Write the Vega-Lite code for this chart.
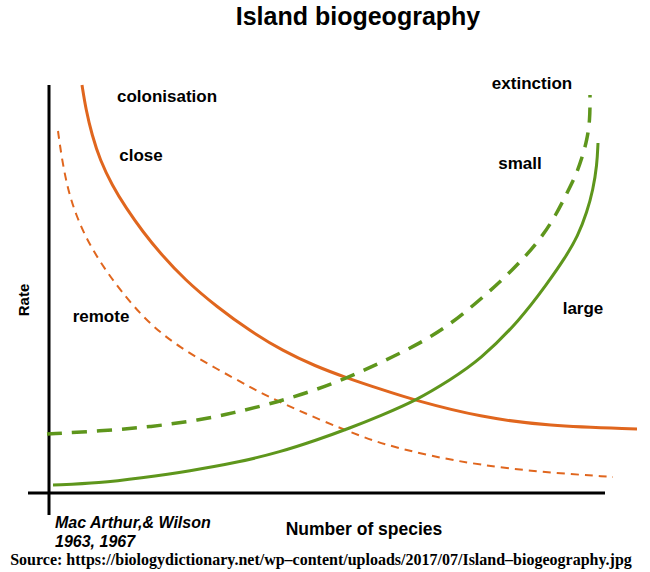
{
  "$schema": "https://vega.github.io/schema/vega-lite/v6.json",
  "width": 650,
  "height": 572,
  "padding": 0,
  "autosize": {"type": "fit", "contains": "padding"},
  "background": "white",
  "config": {"view": {"stroke": null}},
  "datasets": {
    "curves": [
      {"series": "close", "i": 1, "x": 33, "y": 408},
      {"series": "close", "i": 2, "x": 37, "y": 383},
      {"series": "close", "i": 3, "x": 43, "y": 358},
      {"series": "close", "i": 4, "x": 51, "y": 333},
      {"series": "close", "i": 5, "x": 63, "y": 308},
      {"series": "close", "i": 6, "x": 77, "y": 285},
      {"series": "close", "i": 7, "x": 94, "y": 261},
      {"series": "close", "i": 8, "x": 111, "y": 240},
      {"series": "close", "i": 9, "x": 136, "y": 213},
      {"series": "close", "i": 10, "x": 168, "y": 186},
      {"series": "close", "i": 11, "x": 201, "y": 162},
      {"series": "close", "i": 12, "x": 234, "y": 142},
      {"series": "close", "i": 13, "x": 266, "y": 127},
      {"series": "close", "i": 14, "x": 298, "y": 115},
      {"series": "close", "i": 15, "x": 331, "y": 104},
      {"series": "close", "i": 16, "x": 368, "y": 92},
      {"series": "close", "i": 17, "x": 431, "y": 76},
      {"series": "close", "i": 18, "x": 498, "y": 67},
      {"series": "close", "i": 19, "x": 588, "y": 64},
      {"series": "remote", "i": 1, "x": 9, "y": 362},
      {"series": "remote", "i": 2, "x": 13, "y": 333},
      {"series": "remote", "i": 3, "x": 19, "y": 303},
      {"series": "remote", "i": 4, "x": 27, "y": 278},
      {"series": "remote", "i": 5, "x": 38, "y": 253},
      {"series": "remote", "i": 6, "x": 53, "y": 228},
      {"series": "remote", "i": 7, "x": 71, "y": 203},
      {"series": "remote", "i": 8, "x": 98, "y": 171},
      {"series": "remote", "i": 9, "x": 131, "y": 145},
      {"series": "remote", "i": 10, "x": 168, "y": 124},
      {"series": "remote", "i": 11, "x": 201, "y": 106},
      {"series": "remote", "i": 12, "x": 224, "y": 94},
      {"series": "remote", "i": 13, "x": 271, "y": 73},
      {"series": "remote", "i": 14, "x": 314, "y": 56},
      {"series": "remote", "i": 15, "x": 334, "y": 49},
      {"series": "remote", "i": 16, "x": 381, "y": 37},
      {"series": "remote", "i": 17, "x": 431, "y": 28},
      {"series": "remote", "i": 18, "x": 491, "y": 21},
      {"series": "remote", "i": 19, "x": 564, "y": 16},
      {"series": "small", "i": 1, "x": -2, "y": 59},
      {"series": "small", "i": 2, "x": 51, "y": 62},
      {"series": "small", "i": 3, "x": 101, "y": 66},
      {"series": "small", "i": 4, "x": 151, "y": 73},
      {"series": "small", "i": 5, "x": 184, "y": 80},
      {"series": "small", "i": 6, "x": 221, "y": 89},
      {"series": "small", "i": 7, "x": 261, "y": 101},
      {"series": "small", "i": 8, "x": 298, "y": 115},
      {"series": "small", "i": 9, "x": 331, "y": 130},
      {"series": "small", "i": 10, "x": 366, "y": 147},
      {"series": "small", "i": 11, "x": 398, "y": 166},
      {"series": "small", "i": 12, "x": 431, "y": 193},
      {"series": "small", "i": 13, "x": 464, "y": 223},
      {"series": "small", "i": 14, "x": 491, "y": 253},
      {"series": "small", "i": 15, "x": 507, "y": 278},
      {"series": "small", "i": 16, "x": 518, "y": 300},
      {"series": "small", "i": 17, "x": 527, "y": 318},
      {"series": "small", "i": 18, "x": 533, "y": 335},
      {"series": "small", "i": 19, "x": 538, "y": 353},
      {"series": "small", "i": 20, "x": 541, "y": 373},
      {"series": "small", "i": 21, "x": 541, "y": 398},
      {"series": "large", "i": 1, "x": 4, "y": 8},
      {"series": "large", "i": 2, "x": 51, "y": 10},
      {"series": "large", "i": 3, "x": 91, "y": 15},
      {"series": "large", "i": 4, "x": 141, "y": 22},
      {"series": "large", "i": 5, "x": 191, "y": 31},
      {"series": "large", "i": 6, "x": 231, "y": 41},
      {"series": "large", "i": 7, "x": 268, "y": 53},
      {"series": "large", "i": 8, "x": 301, "y": 65},
      {"series": "large", "i": 9, "x": 331, "y": 77},
      {"series": "large", "i": 10, "x": 368, "y": 93},
      {"series": "large", "i": 11, "x": 401, "y": 113},
      {"series": "large", "i": 12, "x": 431, "y": 133},
      {"series": "large", "i": 13, "x": 471, "y": 173},
      {"series": "large", "i": 14, "x": 498, "y": 209},
      {"series": "large", "i": 15, "x": 516, "y": 235},
      {"series": "large", "i": 16, "x": 529, "y": 257},
      {"series": "large", "i": 17, "x": 538, "y": 281},
      {"series": "large", "i": 18, "x": 544, "y": 303},
      {"series": "large", "i": 19, "x": 548, "y": 328},
      {"series": "large", "i": 20, "x": 549, "y": 350}
    ],
    "axes": [
      {"axis": "rate", "x": 0, "y": -22, "x2": 0, "y2": 408},
      {"axis": "species", "x": -21, "y": 0, "x2": 556, "y2": 0}
    ],
    "labels": [
      {"kind": "title", "text": "Island biogeography", "x": 309, "y": 476},
      {"kind": "label", "text": "colonisation", "x": 118, "y": 396},
      {"kind": "label", "text": "close", "x": 92, "y": 337},
      {"kind": "label", "text": "remote", "x": 52, "y": 176},
      {"kind": "label", "text": "extinction", "x": 483, "y": 409},
      {"kind": "label", "text": "small", "x": 471, "y": 329},
      {"kind": "label", "text": "large", "x": 534, "y": 184},
      {"kind": "ytitle", "text": "Rate", "x": -25, "y": 193},
      {"kind": "xtitle", "text": "Number of species", "x": 315, "y": -37},
      {"kind": "cite", "text": "Mac Arthur,& Wilson", "x": 6, "y": -30},
      {"kind": "cite", "text": "1963, 1967", "x": 6, "y": -49},
      {"kind": "source", "text": "Source: https://biologydictionary.net/wp–content/uploads/2017/07/Island–biogeography.jpg", "x": 272, "y": -67}
    ]
  },
  "encoding": {
    "x": {"field": "x", "type": "quantitative", "scale": {"domain": [-49, 601], "nice": false, "zero": false}, "axis": null},
    "y": {"field": "y", "type": "quantitative", "scale": {"domain": [-79, 493], "nice": false, "zero": false}, "axis": null}
  },
  "layer": [
    {
      "data": {"name": "axes"},
      "mark": {"type": "rule", "color": "black", "strokeWidth": 3},
      "encoding": {"x2": {"field": "x2"}, "y2": {"field": "y2"}}
    },
    {
      "data": {"name": "curves"},
      "transform": [{"filter": "datum.series == 'remote'"}],
      "mark": {"type": "line", "color": "#E0661E", "strokeWidth": 2, "strokeDash": [8, 6], "interpolate": "basis"},
      "encoding": {"order": {"field": "i", "type": "quantitative"}}
    },
    {
      "data": {"name": "curves"},
      "transform": [{"filter": "datum.series == 'close'"}],
      "mark": {"type": "line", "color": "#E0661E", "strokeWidth": 3, "interpolate": "basis"},
      "encoding": {"order": {"field": "i", "type": "quantitative"}}
    },
    {
      "data": {"name": "curves"},
      "transform": [{"filter": "datum.series == 'small'"}],
      "mark": {"type": "line", "color": "#5E961C", "strokeWidth": 3.5, "strokeDash": [15, 10], "interpolate": "basis"},
      "encoding": {"order": {"field": "i", "type": "quantitative"}}
    },
    {
      "data": {"name": "curves"},
      "transform": [{"filter": "datum.series == 'large'"}],
      "mark": {"type": "line", "color": "#5E961C", "strokeWidth": 3, "interpolate": "basis"},
      "encoding": {"order": {"field": "i", "type": "quantitative"}}
    },
    {
      "data": {"name": "labels"},
      "transform": [{"filter": "datum.kind == 'title'"}],
      "mark": {"type": "text", "font": "Liberation Sans", "fontWeight": "bold", "fontSize": 25, "align": "center", "baseline": "middle", "color": "black"},
      "encoding": {"text": {"field": "text"}}
    },
    {
      "data": {"name": "labels"},
      "transform": [{"filter": "datum.kind == 'label'"}],
      "mark": {"type": "text", "font": "Liberation Sans", "fontWeight": "bold", "fontSize": 17, "align": "center", "baseline": "middle", "color": "black"},
      "encoding": {"text": {"field": "text"}}
    },
    {
      "data": {"name": "labels"},
      "transform": [{"filter": "datum.kind == 'ytitle'"}],
      "mark": {"type": "text", "font": "Liberation Sans", "fontWeight": "bold", "fontSize": 15, "align": "center", "baseline": "middle", "angle": 270, "color": "black"},
      "encoding": {"text": {"field": "text"}}
    },
    {
      "data": {"name": "labels"},
      "transform": [{"filter": "datum.kind == 'xtitle'"}],
      "mark": {"type": "text", "font": "Liberation Sans", "fontWeight": "bold", "fontSize": 17.5, "align": "center", "baseline": "middle", "color": "black"},
      "encoding": {"text": {"field": "text"}}
    },
    {
      "data": {"name": "labels"},
      "transform": [{"filter": "datum.kind == 'cite'"}],
      "mark": {"type": "text", "font": "Liberation Sans", "fontWeight": "bold", "fontStyle": "italic", "fontSize": 16, "align": "left", "baseline": "middle", "color": "black"},
      "encoding": {"text": {"field": "text"}}
    },
    {
      "data": {"name": "labels"},
      "transform": [{"filter": "datum.kind == 'source'"}],
      "mark": {"type": "text", "font": "Liberation Serif", "fontWeight": "bold", "fontSize": 16, "align": "center", "baseline": "middle", "color": "black"},
      "encoding": {"text": {"field": "text"}}
    }
  ]
}
